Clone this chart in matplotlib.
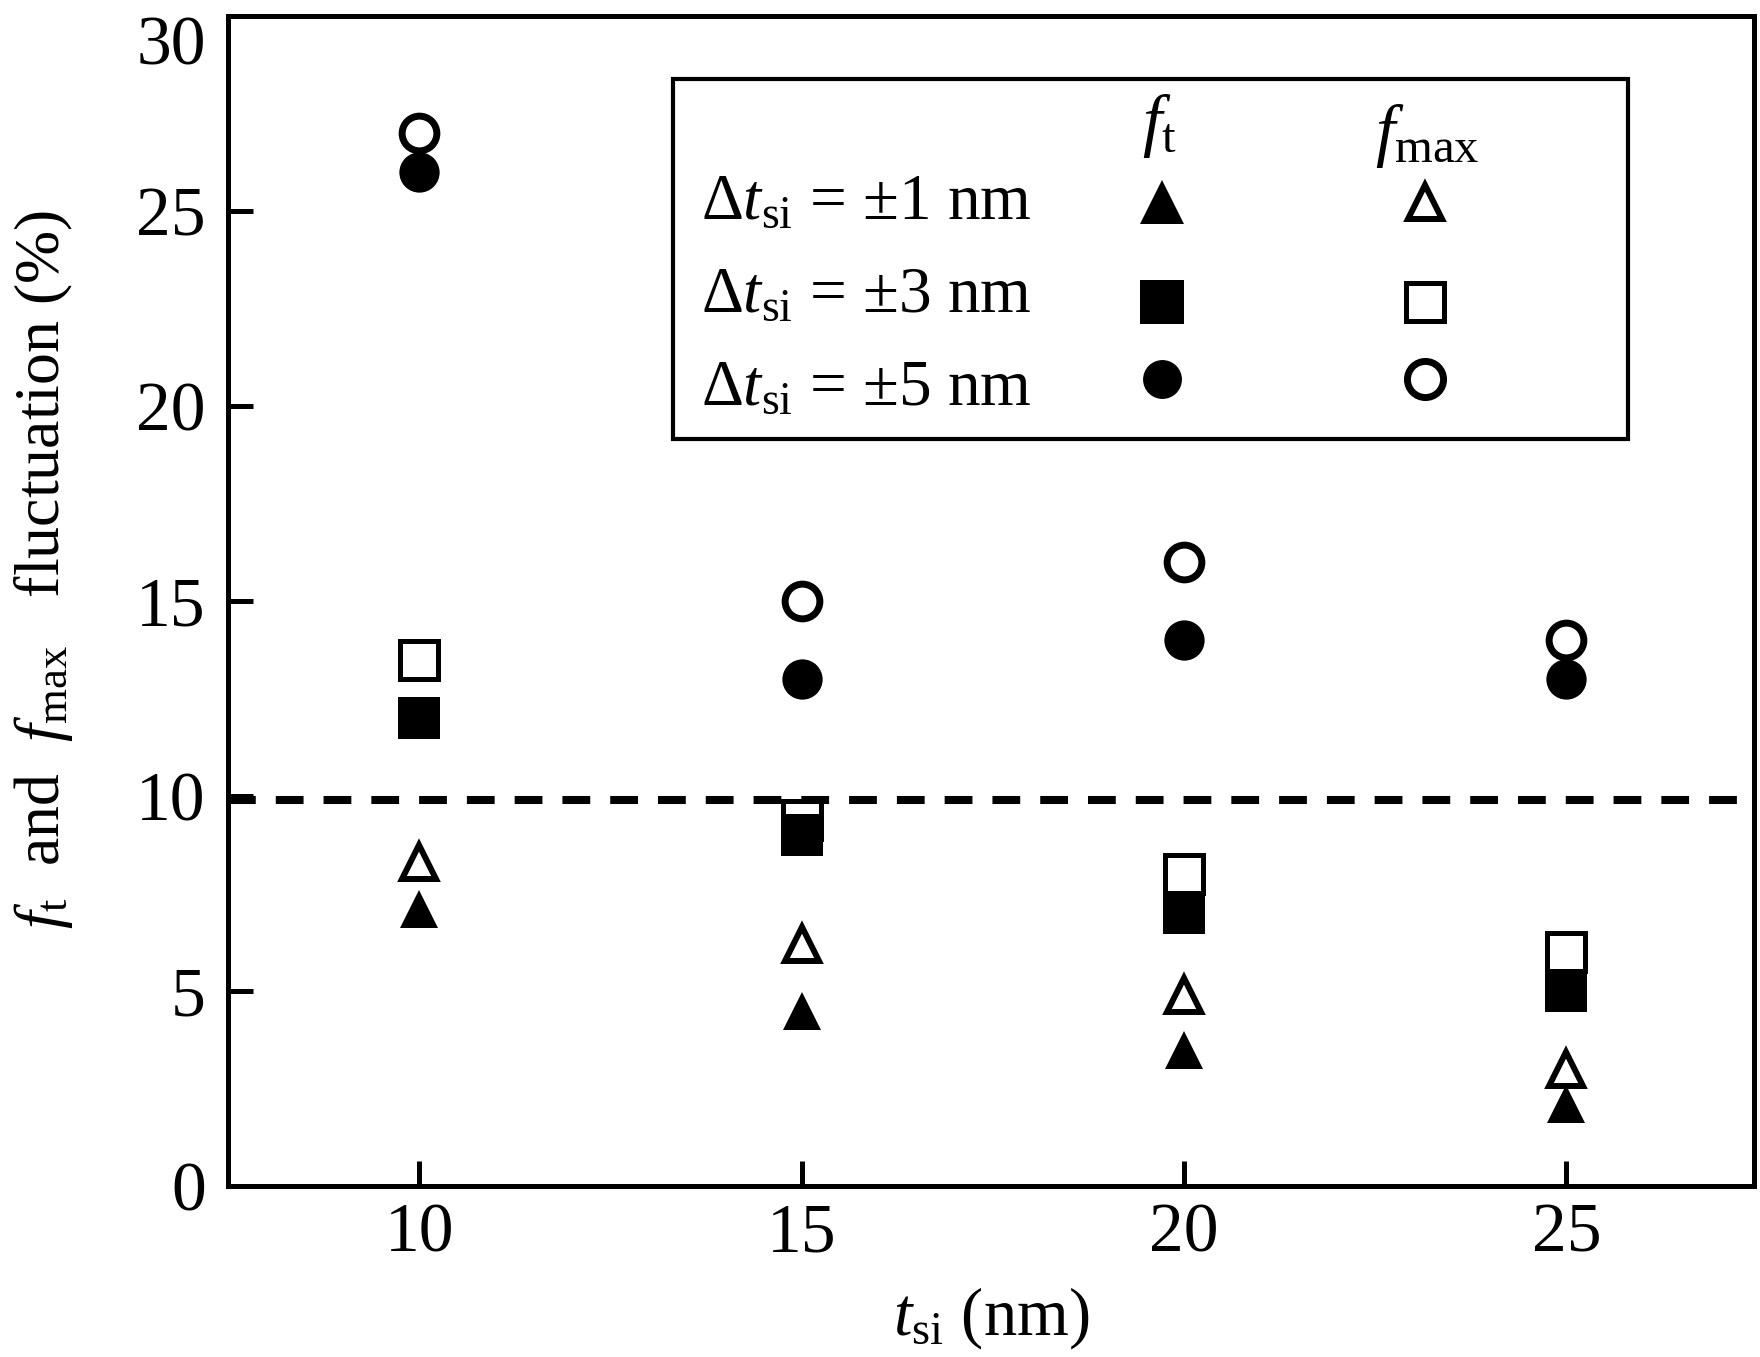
import matplotlib
matplotlib.use("Agg")
import matplotlib.pyplot as plt
from matplotlib.patches import Rectangle

plt.rcParams['font.family'] = ['Liberation Serif', 'DejaVu Serif']
plt.rcParams['mathtext.fontset'] = 'custom'
plt.rcParams['mathtext.rm'] = 'Liberation Serif'
plt.rcParams['mathtext.it'] = 'Liberation Serif:italic'
plt.rcParams['mathtext.bf'] = 'Liberation Serif:bold'
plt.rcParams['lines.scale_dashes'] = False

# ---- data ----
t_si = [10, 15, 20, 25]
ft_1nm = [7.1, 4.5, 3.5, 2.1]
fmax_1nm = [8.3, 6.2, 4.9, 3.0]
ft_3nm = [12.0, 9.0, 7.0, 5.0]
fmax_3nm = [13.5, 9.4, 8.0, 6.0]
ft_5nm = [26.0, 13.0, 14.0, 13.0]
fmax_5nm = [27.0, 15.0, 16.0, 14.0]
threshold = 9.9
x_ticks = [10, 15, 20, 25]
y_ticks = [0, 5, 10, 15, 20, 25, 30]
legend_rows = ['±1 nm', '±3 nm', '±5 nm']

fig = plt.figure(figsize=(17.6, 13.57), dpi=100)
ax = fig.add_axes([0.1295, 0.126, 0.867, 0.862])

# open (f_max) markers first, filled (f_t) on top
ax.plot(t_si, fmax_5nm, ls='none', marker='o', ms=25, mfc='white', mec='black', mew=5, zorder=3)
ax.plot(t_si, fmax_3nm, ls='none', marker='s', ms=27, mfc='white', mec='black', mew=3.6, zorder=3)
ax.plot(t_si, fmax_1nm, ls='none', marker='^', ms=24, mfc='white', mec='black', mew=4.3, zorder=3)
ax.plot(t_si, ft_5nm, ls='none', marker='o', ms=29, mfc='black', mec='black', mew=0, zorder=4)
ax.plot(t_si, ft_3nm, ls='none', marker='s', ms=30, mfc='black', mec='black', mew=0, zorder=4)
ax.plot(t_si, ft_1nm, ls='none', marker='^', ms=28, mfc='black', mec='black', mew=0, zorder=4)

ax.axhline(threshold, color='black', lw=5.8, ls=(0, (20, 14.4)), zorder=5)

ax.set_xlim(7.5, 27.45)
ax.set_ylim(0, 30)
ax.set_xticks(x_ticks)
ax.set_yticks(y_ticks)
ax.tick_params(direction='in', length=18, width=3.6, labelsize=50)
ax.tick_params(axis='y', pad=16)
ax.tick_params(axis='x', pad=12)
for s in ax.spines.values():
    s.set_linewidth(3.6)
ax.yaxis.get_major_ticks()[-1].label1.set_verticalalignment('top')

ax.set_xlabel(r'$t_{\rm si}$ (nm)', fontsize=48)
ax.xaxis.set_label_coords(0.5, -0.085)
ax.set_ylabel(r'$f_{\rm t}$  and  $f_{\rm max}$   fluctuation (%)', fontsize=46)
ax.yaxis.set_label_coords(-0.10, 0.527)

# ---- legend drawn as a table ----
ax.add_patch(Rectangle((0.2916, 0.6385), 0.9174 - 0.2916, 0.946 - 0.6385,
                       transform=ax.transAxes, fill=False, lw=3, ec='black',
                       zorder=6, clip_on=False))
ax.text(0.599, 0.906, r'$f_{\rm t}$', transform=ax.transAxes, fontsize=50,
        va='center', ha='left', zorder=7)
ax.text(0.7516, 0.898, r'$f_{\rm max}$', transform=ax.transAxes, fontsize=50,
        va='center', ha='left', zorder=7)
row_base = [0.8265, 0.747, 0.668]
row_mark = [0.841, 0.756, 0.690]
mk = ['^', 's', 'o']
ms_f = [31, 32, 28]
ms_o = [25, 28, 26]
mew_o = [4.3, 3.6, 5]
for i, lab in enumerate(legend_rows):
    ax.text(0.31, row_base[i], 'Δ' + r'$t_{\rm si}$' + ' = ' + lab,
            transform=ax.transAxes, fontsize=47, va='baseline', ha='left', zorder=7)
    ax.plot([0.612], [row_mark[i]], transform=ax.transAxes, ls='none', marker=mk[i],
            ms=ms_f[i], mfc='black', mec='black', mew=0, zorder=7, clip_on=False)
    ax.plot([0.7847], [row_mark[i]], transform=ax.transAxes, ls='none', marker=mk[i],
            ms=ms_o[i], mfc='white', mec='black', mew=mew_o[i], zorder=7, clip_on=False)

fig.savefig('out.png', dpi=100)
